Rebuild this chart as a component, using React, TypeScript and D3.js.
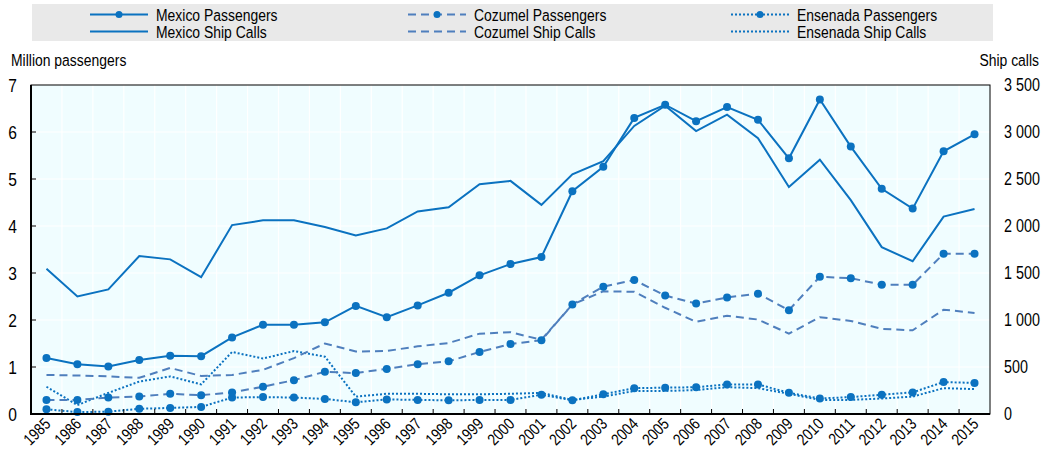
import React from "react";
import * as d3 from "d3";

const years = d3.range(1985, 2016).map(String);

// million passengers
const mexicoPassengers = [1.19, 1.06, 1.01, 1.15, 1.24, 1.23, 1.63, 1.9, 1.9, 1.95, 2.3, 2.06, 2.31, 2.58, 2.95, 3.19, 3.34, 4.74, 5.26, 6.3, 6.58, 6.23, 6.53, 6.26, 5.44, 6.69, 5.69, 4.79, 4.37, 5.59, 5.95];
const cozumelPassengers = [0.3, 0.3, 0.35, 0.37, 0.43, 0.4, 0.46, 0.58, 0.72, 0.9, 0.87, 0.96, 1.06, 1.12, 1.32, 1.49, 1.57, 2.33, 2.71, 2.85, 2.52, 2.35, 2.48, 2.56, 2.21, 2.92, 2.89, 2.75, 2.75, 3.41, 3.41];
const ensenadaPassengers = [0.1, 0.04, 0.05, 0.11, 0.13, 0.15, 0.35, 0.36, 0.35, 0.32, 0.25, 0.31, 0.3, 0.29, 0.3, 0.3, 0.41, 0.29, 0.42, 0.55, 0.56, 0.57, 0.63, 0.63, 0.45, 0.33, 0.36, 0.41, 0.46, 0.68, 0.66];

// ship calls
const mexicoShipCalls = [1545, 1250, 1325, 1680, 1645, 1455, 2010, 2060, 2060, 1990, 1900, 1975, 2155, 2200, 2445, 2480, 2225, 2550, 2690, 3065, 3280, 3010, 3185, 2935, 2415, 2705, 2275, 1775, 1625, 2100, 2180];
const cozumelShipCalls = [415, 410, 400, 385, 490, 405, 415, 470, 595, 750, 665, 670, 720, 755, 855, 870, 790, 1165, 1305, 1300, 1130, 980, 1045, 1005, 855, 1030, 990, 905, 890, 1110, 1075];
const ensenadaShipCalls = [290, 95, 225, 345, 400, 315, 660, 590, 670, 610, 185, 215, 215, 210, 210, 215, 225, 150, 185, 245, 245, 255, 285, 275, 215, 150, 150, 165, 185, 275, 265];

const leftTicks = [0, 1, 2, 3, 4, 5, 6, 7];
const rightTicks = [0, 500, 1000, 1500, 2000, 2500, 3000, 3500];

const BLUE = "#0b72c0";
const STEEL = "#4f7fbd";
const FONT = "'Liberation Sans', Arial, sans-serif";
const NARROW = 0.82; // no narrow face installed, squeeze the regular one

const W = 1043;
const H = 455;
const left = 31;
const right = 990;
const top = 85;
const bottom = 414;

function T({ x, y, size, anchor = "start", rotate = 0, children }: any) {
  return (
    <text
      transform={`translate(${x},${y}) rotate(${rotate}) scale(${NARROW},1)`}
      fontSize={size}
      textAnchor={anchor}
      fill="#000"
    >
      {children}
    </text>
  );
}

export default function App() {
  const x = d3.scaleBand<string>().domain(years).range([left, right]);
  const y = d3.scaleLinear().domain([0, 7]).range([bottom, top]);
  const yR = d3.scaleLinear().domain([0, 3500]).range([bottom, top]);
  const cx = (i: number) => (x(years[i]) as number) + x.bandwidth() / 2;

  const lineL = d3.line<number>().x((_, i) => cx(i)).y((d) => y(d));
  const lineR = d3.line<number>().x((_, i) => cx(i)).y((d) => yR(d));

  const series = [
    { name: "Mexico Passengers", data: mexicoPassengers, path: lineL, color: BLUE, dash: "", marker: true },
    { name: "Cozumel Passengers", data: cozumelPassengers, path: lineL, color: STEEL, dash: "8,5", marker: true },
    { name: "Ensenada Passengers", data: ensenadaPassengers, path: lineL, color: BLUE, dash: "2,2", marker: true },
    { name: "Mexico Ship Calls", data: mexicoShipCalls, path: lineR, color: BLUE, dash: "", marker: false },
    { name: "Cozumel Ship Calls", data: cozumelShipCalls, path: lineR, color: STEEL, dash: "8,5", marker: false },
    { name: "Ensenada Ship Calls", data: ensenadaShipCalls, path: lineR, color: BLUE, dash: "2,2", marker: false },
  ];

  // legend: columns by port, rows passengers / ship calls
  const legendCols = [90, 408, 731];

  return (
    <>
      <style>{"body{margin:0}"}</style>
      <svg width={W} height={H} style={{ display: "block", fontFamily: FONT }}>
        {/* legend */}
        <rect x={32} y={4} width={961} height={37} fill="#e9e9e9" />
        {series.map((s, i) => {
          const col = i % 3;
          const row = Math.floor(i / 3);
          const lx = legendCols[col];
          const ly = row === 0 ? 14.5 : 31.5;
          return (
            <g key={s.name}>
              <line x1={lx} x2={lx + 58} y1={ly} y2={ly} stroke={s.color} strokeWidth={2} strokeDasharray={s.dash} />
              {s.marker && <circle cx={lx + 29} cy={ly} r={3.5} fill={BLUE} />}
              <T x={lx + 66} y={ly + 6} size={17}>{s.name}</T>
            </g>
          );
        })}

        {/* plot background */}
        <rect x={left} y={top} width={right - left} height={bottom - top} fill="#f0fdff" />
        {leftTicks.slice(1, -1).map((t) => (
          <line key={t} x1={left} x2={right} y1={y(t)} y2={y(t)} stroke="#fff" strokeWidth={1.2} />
        ))}
        {years.slice(1).map((yr) => (
          <line key={yr} x1={x(yr)} x2={x(yr)} y1={top} y2={bottom} stroke="#fff" strokeWidth={1.2} />
        ))}

        {/* axis titles */}
        <T x={11} y={66} size={17}>Million passengers</T>
        <T x={1039} y={66} size={17} anchor="end">Ship calls</T>

        {leftTicks.map((t) => (
          <g key={t}>
            <T x={17} y={y(t) + 6.5} size={19} anchor="end">{t}</T>
            {t > 0 && t < 7 && <line x1={left} x2={left + 5} y1={y(t)} y2={y(t)} stroke="#000" />}
          </g>
        ))}
        {rightTicks.map((t) => (
          <T key={t} x={1004} y={yR(t) + 6} size={17.5}>
            {d3.format(",")(t).replace(",", " ")}
          </T>
        ))}

        {/* series */}
        {series.slice().reverse().map((s) => (
          <g key={s.name}>
            <path d={s.path(s.data) as string} fill="none" stroke={s.color} strokeWidth={2} strokeDasharray={s.dash} />
            {s.marker && s.data.map((d, i) => <circle key={i} cx={cx(i)} cy={y(d)} r={4} fill={BLUE} />)}
          </g>
        ))}

        {/* frame */}
        <rect x={left} y={top} width={right - left} height={bottom - top} fill="none" stroke="#000" strokeWidth={1} />
        <line x1={left} x2={left} y1={top} y2={bottom + 1} stroke="#000" strokeWidth={2} />
        <line x1={left - 1} x2={right} y1={bottom} y2={bottom} stroke="#000" strokeWidth={2} />
        {years.slice(1).map((yr) => (
          <line key={yr} x1={x(yr)} x2={x(yr)} y1={bottom} y2={bottom - 5} stroke="#000" />
        ))}

        {/* x labels */}
        {years.map((yr, i) => (
          <T key={yr} x={cx(i) + 5} y={bottom + 11} size={16.5} anchor="end" rotate={-45}>
            {yr}
          </T>
        ))}
      </svg>
    </>
  );
}
